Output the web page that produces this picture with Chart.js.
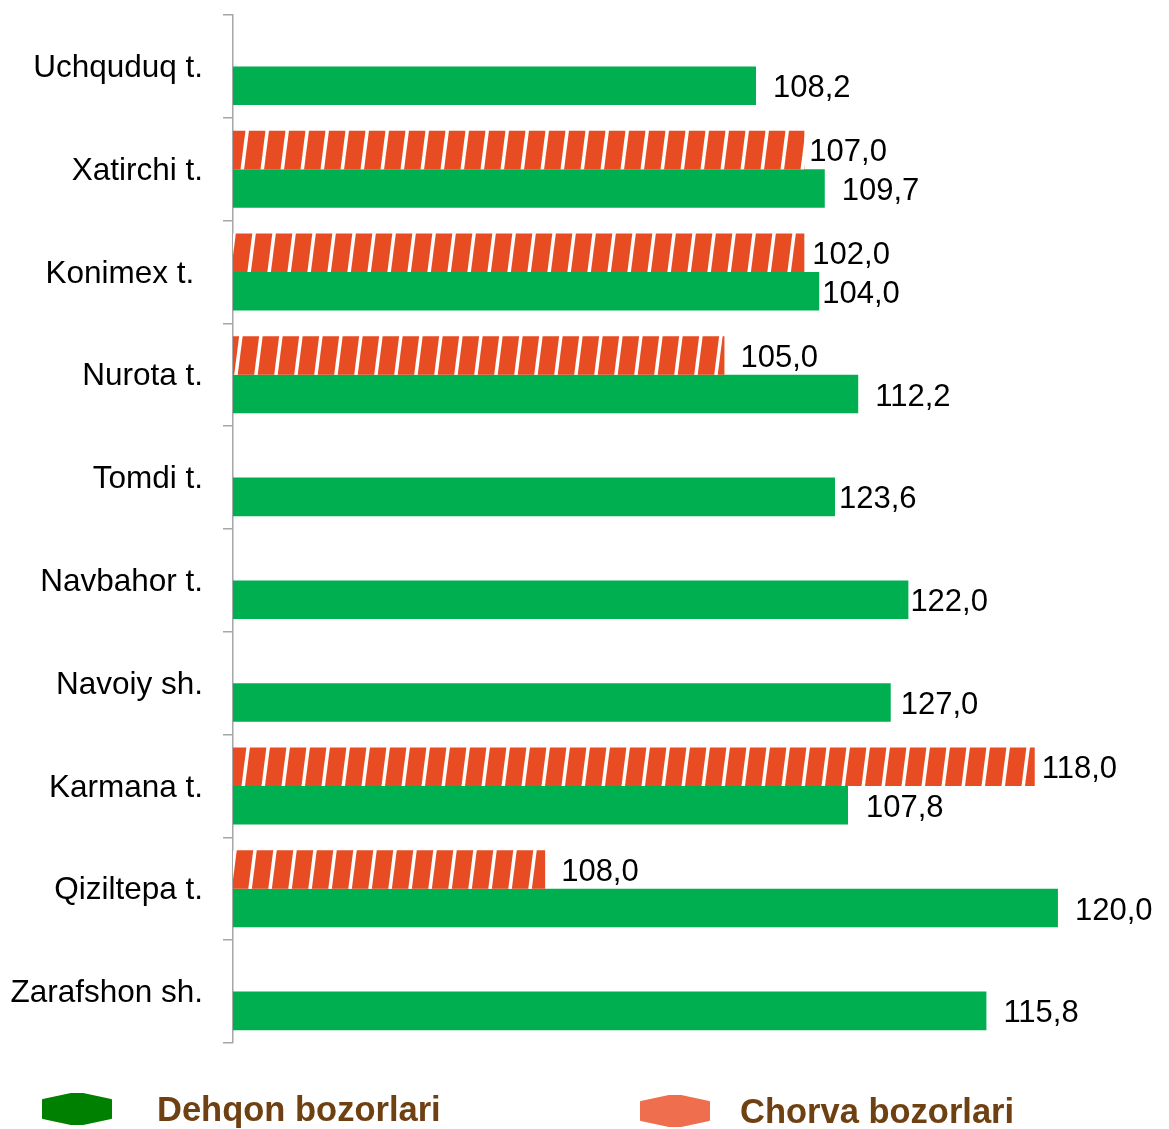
<!DOCTYPE html>
<html>
<head>
<meta charset="utf-8">
<script src="https://cdn.jsdelivr.net/npm/chart.js@4"></script>
<style>
  html, body { margin: 0; padding: 0; background: #fff; }
  #wrap { width: 1169px; height: 1129px; position: relative; }
</style>
</head>
<body>
<div id="wrap"><canvas id="c" width="1169" height="1129"></canvas></div>
<script>
// ---- data ----
const categories = ['Uchquduq t.', 'Xatirchi t.', 'Konimex t. ', 'Nurota t.', 'Tomdi t.',
                    'Navbahor t.', 'Navoiy sh.', 'Karmana t.', 'Qiziltepa t.', 'Zarafshon sh.'];
// values printed next to the bars
const dehqonValues = [108.2, 109.7, 104.0, 112.2, 123.6, 122.0, 127.0, 107.8, 120.0, 115.8];
const chorvaValues = [null, 107.0, 102.0, 105.0, null, null, null, 118.0, 108.0, null];
// bar lengths as drawn in the picture (share of the plot width, %)
const dehqonBars = [56.3, 63.7, 63.1, 67.3, 64.8, 72.7, 70.8, 66.2, 88.8, 81.1];
const chorvaBars = [null, 61.5, 61.5, 52.9, null, null, null, 86.3, 33.6, null];
const seriesNames = ['Dehqon bozorlari', 'Chorva bozorlari'];

// ---- styles ----
const GREEN = '#00B050';
const RED = '#E84C22';
const dehqonGap = [17, 17, 3, 17, 4, 2, 10, 18, 17, 17];
const chorvaGap = [0, 5, 8, 16, 0, 0, 0, 7, 16, 0];

function hatch() {
  const w = 20, h = 156;
  const p = document.createElement('canvas');
  p.width = w; p.height = h;
  const g = p.getContext('2d');
  g.fillStyle = RED;
  g.fillRect(0, 0, w, h);
  g.strokeStyle = '#ffffff';
  g.lineWidth = 3.5;
  for (const x0 of [-20, 0, 20]) {
    g.beginPath();
    g.moveTo(x0 + 4, h);
    g.lineTo(x0 + 24, 0);
    g.stroke();
  }
  return document.getElementById('c').getContext('2d').createPattern(p, 'repeat');
}

const fmt = v => v.toFixed(1).replace('.', ',');

const labelPlugin = {
  id: 'valueLabels',
  afterDatasetsDraw(chart) {
    const ctx = chart.ctx;
    ctx.save();
    ctx.font = '31px "Liberation Sans", Arial, sans-serif';
    ctx.fillStyle = '#000';
    ctx.textAlign = 'left';
    ctx.textBaseline = 'middle';
    const sets = [[chorvaValues, chorvaGap, 0], [dehqonValues, dehqonGap, 1]];
    sets.forEach(([vals, gaps, di]) => {
      const meta = chart.getDatasetMeta(di);
      meta.data.forEach((el, i) => {
        if (vals[i] == null) return;
        ctx.fillText(fmt(vals[i]), el.x + gaps[i], el.y + 3);
      });
    });
    ctx.restore();
  }
};

const legendPlugin = {
  id: 'customLegend',
  afterDraw(chart) {
    const ctx = chart.ctx;
    const items = [
      { name: seriesNames[0], color: '#008000', x: 43, tx: 157, y: 1109 },
      { name: seriesNames[1], color: '#EF6E4E', x: 641, tx: 740, y: 1111 }
    ];
    ctx.save();
    items.forEach(it => {
      const x = it.x, y = it.y, w = 68, hh = 15, s = 28;
      ctx.beginPath();
      ctx.moveTo(x, y - 9);
      ctx.lineTo(x + s, y - hh);
      ctx.lineTo(x + w - s, y - hh);
      ctx.lineTo(x + w, y - 9);
      ctx.lineTo(x + w, y + 9);
      ctx.lineTo(x + w - s, y + hh);
      ctx.lineTo(x + s, y + hh);
      ctx.lineTo(x, y + 9);
      ctx.closePath();
      ctx.fillStyle = it.color;
      ctx.strokeStyle = it.color;
      ctx.lineJoin = 'round';
      ctx.lineWidth = 2;
      ctx.fill();
      ctx.stroke();
      ctx.font = 'bold 34.5px "Liberation Sans", Arial, sans-serif';
      ctx.fillStyle = '#6F4011';
      ctx.textAlign = 'left';
      ctx.textBaseline = 'middle';
      ctx.fillText(it.name, it.tx, y + 2);
    });
    ctx.restore();
  }
};

new Chart(document.getElementById('c'), {
  type: 'bar',
  data: {
    labels: categories,
    datasets: [
      { label: seriesNames[1], data: chorvaBars, backgroundColor: hatch(), borderWidth: 0 },
      { label: seriesNames[0], data: dehqonBars, backgroundColor: GREEN, borderWidth: 0 }
    ]
  },
  options: {
    indexAxis: 'y',
    responsive: false,
    animation: false,
    devicePixelRatio: 1,
    layout: { padding: { top: 15, bottom: 86, left: 0, right: 7 } },
    datasets: { bar: { barPercentage: 1, categoryPercentage: 0.75 } },
    plugins: { legend: { display: false }, tooltip: { enabled: false } },
    scales: {
      x: { display: false, min: 0, max: 100 },
      y: {
        afterFit(scale) { scale.width = 233; scale.paddingTop = 0; scale.paddingBottom = 0; },
        grid: { display: true, drawOnChartArea: false, drawTicks: true, tickLength: 10,
                color: '#A6A6A6', lineWidth: 1.5, offset: true },
        border: { display: true, color: '#A6A6A6', width: 1.5 },
        ticks: { color: '#000', padding: 20, labelOffset: 2,
                 font: { family: '"Liberation Sans", Arial, sans-serif', size: 31.5 } }
      }
    }
  },
  plugins: [labelPlugin, legendPlugin]
});
</script>
</body>
</html>
